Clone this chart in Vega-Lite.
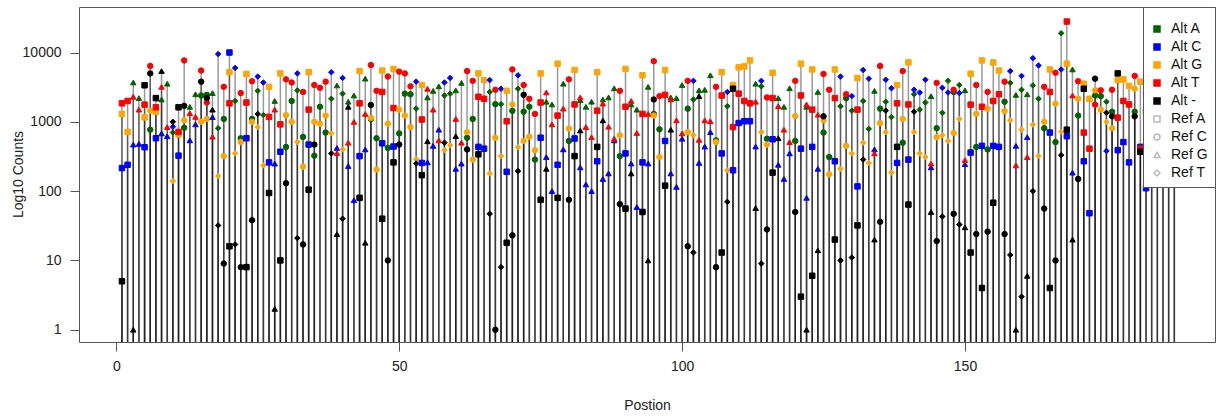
{
"$schema":"https://vega.github.io/schema/vega-lite/v6.json",
"width":1136,"height":335,
"autosize":{"type":"none"},
"padding":{"left":79,"top":7,"right":2,"bottom":77},
"background":"white",
"config":{"view":{"stroke":"#555","strokeWidth":1},"font":"Liberation Sans"},
"data":{"values":[
{"pos":1,"ref":"Ref A","Alt C":215,"Alt G":1300,"Alt T":1850,"Alt -":5},
{"pos":2,"ref":"Ref A","Alt C":240,"Alt G":715,"Alt T":2000},
{"pos":3,"ref":"Ref G","Alt A":3700,"Alt C":470,"Alt T":2300,"Alt -":1},
{"pos":4,"ref":"Ref G","Alt A":2200,"Alt C":480,"Alt T":1500},
{"pos":5,"ref":"Ref A","Alt C":430,"Alt G":1160,"Alt T":1770,"Alt -":3370},
{"pos":6,"ref":"Ref C","Alt A":770,"Alt G":1450,"Alt T":6400,"Alt -":5000},
{"pos":7,"ref":"Ref A","Alt C":580,"Alt G":1400,"Alt T":1620,"Alt -":2200},
{"pos":8,"ref":"Ref G","Alt A":2100,"Alt C":680,"Alt T":3200,"Alt -":5400},
{"pos":9,"ref":"Ref G","Alt A":3550,"Alt C":620,"Alt T":840},
{"pos":10,"ref":"Ref T","Alt A":700,"Alt C":850,"Alt G":140,"Alt -":1000},
{"pos":11,"ref":"Ref A","Alt C":325,"Alt G":660,"Alt T":715,"Alt -":1620},
{"pos":12,"ref":"Ref C","Alt A":820,"Alt G":1050,"Alt T":7700,"Alt -":1700},
{"pos":13,"ref":"Ref G","Alt A":1650,"Alt C":540,"Alt T":1330},
{"pos":14,"ref":"Ref G","Alt A":2500,"Alt C":920,"Alt T":1180},
{"pos":15,"ref":"Ref C","Alt A":2400,"Alt G":1000,"Alt T":5500,"Alt -":3800},
{"pos":16,"ref":"Ref C","Alt A":2450,"Alt G":1100,"Alt T":1900,"Alt -":2200},
{"pos":17,"ref":"Ref G","Alt A":2600,"Alt C":1170,"Alt T":610,"Alt -":1500},
{"pos":18,"ref":"Ref T","Alt A":810,"Alt C":9500,"Alt G":165,"Alt -":32},
{"pos":19,"ref":"Ref C","Alt A":1100,"Alt G":320,"Alt T":3200,"Alt -":9},
{"pos":20,"ref":"Ref A","Alt C":10000,"Alt G":5200,"Alt T":1850,"Alt -":16},
{"pos":21,"ref":"Ref T","Alt A":2000,"Alt C":6000,"Alt G":350,"Alt -":17},
{"pos":22,"ref":"Ref C","Alt A":580,"Alt G":510,"Alt T":2600,"Alt -":8},
{"pos":23,"ref":"Ref A","Alt C":580,"Alt G":4900,"Alt T":1900,"Alt -":8},
{"pos":24,"ref":"Ref C","Alt A":1100,"Alt G":1000,"Alt T":3850,"Alt -":38},
{"pos":25,"ref":"Ref T","Alt A":2800,"Alt C":4500,"Alt G":840,"Alt -":1300},
{"pos":26,"ref":"Ref T","Alt A":1250,"Alt C":3700,"Alt G":235},
{"pos":27,"ref":"Ref A","Alt C":260,"Alt G":3200,"Alt T":1180,"Alt -":94},
{"pos":28,"ref":"Ref G","Alt A":2000,"Alt C":250,"Alt T":1500,"Alt -":2},
{"pos":29,"ref":"Ref A","Alt C":370,"Alt G":5000,"Alt T":920,"Alt -":10},
{"pos":30,"ref":"Ref C","Alt A":435,"Alt G":1250,"Alt T":4100,"Alt -":130},
{"pos":31,"ref":"Ref C","Alt A":2000,"Alt G":1000,"Alt T":3700},
{"pos":32,"ref":"Ref T","Alt A":2850,"Alt C":5000,"Alt G":510,"Alt -":21},
{"pos":33,"ref":"Ref C","Alt A":605,"Alt G":225,"Alt T":2700,"Alt -":17},
{"pos":34,"ref":"Ref A","Alt C":470,"Alt G":5200,"Alt T":1500,"Alt -":105},
{"pos":35,"ref":"Ref C","Alt A":325,"Alt G":1000,"Alt T":3400,"Alt -":470},
{"pos":36,"ref":"Ref C","Alt A":1650,"Alt G":940,"Alt T":3100},
{"pos":37,"ref":"Ref C","Alt A":700,"Alt G":1230,"Alt T":3800},
{"pos":38,"ref":"Ref T","Alt A":2150,"Alt C":5200,"Alt G":680,"Alt -":350},
{"pos":39,"ref":"Ref G","Alt A":3350,"Alt C":420,"Alt T":355,"Alt -":24},
{"pos":40,"ref":"Ref T","Alt A":2550,"Alt C":4300,"Alt G":400,"Alt -":40},
{"pos":41,"ref":"Ref G","Alt A":1950,"Alt C":230,"Alt T":500,"Alt -":1650},
{"pos":42,"ref":"Ref G","Alt A":2400,"Alt C":74,"Alt T":1000},
{"pos":43,"ref":"Ref A","Alt C":320,"Alt G":5400,"Alt T":1850,"Alt -":80},
{"pos":44,"ref":"Ref G","Alt A":4200,"Alt C":400,"Alt T":1300,"Alt -":18},
{"pos":45,"ref":"Ref C","Alt A":1100,"Alt G":1140,"Alt T":6600,"Alt -":1750},
{"pos":46,"ref":"Ref C","Alt A":580,"Alt G":205,"Alt T":2800},
{"pos":47,"ref":"Ref A","Alt C":490,"Alt G":5500,"Alt T":2700,"Alt -":40},
{"pos":48,"ref":"Ref C","Alt A":420,"Alt G":940,"Alt T":4500,"Alt -":10},
{"pos":49,"ref":"Ref A","Alt C":440,"Alt G":5800,"Alt T":1580,"Alt -":260},
{"pos":50,"ref":"Ref C","Alt A":680,"Alt G":1500,"Alt T":5300,"Alt -":470},
{"pos":51,"ref":"Ref C","Alt A":2550,"Alt G":1230,"Alt T":5000},
{"pos":52,"ref":"Ref C","Alt A":2500,"Alt G":840,"Alt T":3250},
{"pos":53,"ref":"Ref T","Alt A":1550,"Alt C":3800,"Alt G":290,"Alt -":250},
{"pos":54,"ref":"Ref A","Alt C":255,"Alt G":3400,"Alt T":1080,"Alt -":170},
{"pos":55,"ref":"Ref G","Alt A":2250,"Alt C":260,"Alt T":3000,"Alt -":525},
{"pos":56,"ref":"Ref G","Alt A":2800,"Alt C":450,"Alt T":1500},
{"pos":57,"ref":"Ref G","Alt A":3250,"Alt C":770,"Alt T":540},
{"pos":58,"ref":"Ref T","Alt A":2400,"Alt C":3700,"Alt G":390,"Alt -":500},
{"pos":59,"ref":"Ref T","Alt A":2550,"Alt C":4300,"Alt G":460},
{"pos":60,"ref":"Ref G","Alt A":2850,"Alt C":210,"Alt T":1100,"Alt -":620},
{"pos":61,"ref":"Ref G","Alt A":3650,"Alt C":250,"Alt T":500},
{"pos":62,"ref":"Ref C","Alt A":590,"Alt G":710,"Alt T":5400,"Alt -":400},
{"pos":63,"ref":"Ref C","Alt A":1100,"Alt G":285,"Alt T":3900},
{"pos":64,"ref":"Ref A","Alt C":435,"Alt G":5000,"Alt T":2300,"Alt -":340},
{"pos":65,"ref":"Ref A","Alt C":410,"Alt G":4000,"Alt T":2150},
{"pos":66,"ref":"Ref T","Alt A":2700,"Alt C":4000,"Alt G":180,"Alt -":47},
{"pos":67,"ref":"Ref C","Alt A":1800,"Alt G":590,"Alt T":2900,"Alt -":1},
{"pos":68,"ref":"Ref T","Alt A":1800,"Alt C":3000,"Alt G":320,"Alt -":8},
{"pos":69,"ref":"Ref A","Alt C":190,"Alt G":2800,"Alt T":1020,"Alt -":18},
{"pos":70,"ref":"Ref C","Alt A":1440,"Alt G":1780,"Alt T":5700,"Alt -":23},
{"pos":71,"ref":"Ref T","Alt A":3000,"Alt C":4700,"Alt G":430,"Alt -":195},
{"pos":72,"ref":"Ref C","Alt A":1400,"Alt G":530,"Alt T":3400,"Alt -":2450},
{"pos":73,"ref":"Ref C","Alt A":1650,"Alt G":610,"Alt T":2150},
{"pos":74,"ref":"Ref C","Alt A":285,"Alt G":390,"Alt T":1300},
{"pos":75,"ref":"Ref A","Alt C":590,"Alt G":5000,"Alt T":1900,"Alt -":75},
{"pos":76,"ref":"Ref G","Alt A":1950,"Alt C":310,"Alt T":2650,"Alt -":210},
{"pos":77,"ref":"Ref G","Alt A":1780,"Alt C":100,"Alt T":920},
{"pos":78,"ref":"Ref A","Alt C":240,"Alt G":6900,"Alt T":1230,"Alt -":80},
{"pos":79,"ref":"Ref G","Alt A":3550,"Alt C":400,"Alt T":1550},
{"pos":80,"ref":"Ref C","Alt A":530,"Alt G":800,"Alt T":4100,"Alt -":75},
{"pos":81,"ref":"Ref A","Alt C":575,"Alt G":5600,"Alt T":1780,"Alt -":320},
{"pos":82,"ref":"Ref G","Alt A":2050,"Alt C":220,"Alt T":2250,"Alt -":750},
{"pos":83,"ref":"Ref G","Alt A":1650,"Alt C":125,"Alt T":840},
{"pos":84,"ref":"Ref G","Alt A":1950,"Alt C":100,"Alt T":600},
{"pos":85,"ref":"Ref A","Alt C":270,"Alt G":5200,"Alt T":1450,"Alt -":435},
{"pos":86,"ref":"Ref G","Alt A":2100,"Alt C":150,"Alt T":1830,"Alt -":1050},
{"pos":87,"ref":"Ref G","Alt A":2250,"Alt C":180,"Alt T":850},
{"pos":88,"ref":"Ref G","Alt A":3050,"Alt C":540,"Alt T":570},
{"pos":89,"ref":"Ref C","Alt A":320,"Alt G":640,"Alt T":2800,"Alt -":65},
{"pos":90,"ref":"Ref A","Alt C":350,"Alt G":5800,"Alt T":1650,"Alt -":56},
{"pos":91,"ref":"Ref G","Alt A":1780,"Alt C":250,"Alt T":2000,"Alt -":180},
{"pos":92,"ref":"Ref G","Alt A":1500,"Alt C":59,"Alt T":690},
{"pos":93,"ref":"Ref A","Alt C":260,"Alt G":4700,"Alt T":1300,"Alt -":50},
{"pos":94,"ref":"Ref G","Alt A":3200,"Alt C":250,"Alt T":1300,"Alt -":10},
{"pos":95,"ref":"Ref C","Alt A":1300,"Alt G":1230,"Alt T":7500,"Alt -":2100},
{"pos":96,"ref":"Ref C","Alt A":780,"Alt G":310,"Alt T":2350},
{"pos":97,"ref":"Ref A","Alt C":530,"Alt G":5600,"Alt T":2450,"Alt -":120},
{"pos":98,"ref":"Ref G","Alt A":2250,"Alt C":180,"Alt T":2100,"Alt -":770},
{"pos":99,"ref":"Ref G","Alt A":2200,"Alt C":115,"Alt T":1050},
{"pos":100,"ref":"Ref G","Alt A":3400,"Alt C":570,"Alt T":680},
{"pos":101,"ref":"Ref C","Alt A":1550,"Alt G":710,"Alt T":3900,"Alt -":16},
{"pos":102,"ref":"Ref T","Alt A":2100,"Alt C":3900,"Alt G":640,"Alt -":13},
{"pos":103,"ref":"Ref G","Alt A":2850,"Alt C":255,"Alt T":550,"Alt -":2350},
{"pos":104,"ref":"Ref G","Alt A":2900,"Alt C":440,"Alt T":1050},
{"pos":105,"ref":"Ref G","Alt A":4700,"Alt C":710,"Alt T":1020},
{"pos":106,"ref":"Ref C","Alt A":540,"Alt G":510,"Alt T":3200,"Alt -":8},
{"pos":107,"ref":"Ref A","Alt C":350,"Alt G":5200,"Alt T":2400,"Alt -":13},
{"pos":108,"ref":"Ref T","Alt A":1680,"Alt C":2700,"Alt G":200,"Alt -":70},
{"pos":109,"ref":"Ref A","Alt C":200,"Alt G":3400,"Alt T":840,"Alt -":3000},
{"pos":110,"ref":"Ref A","Alt C":960,"Alt G":6100,"Alt T":2550},
{"pos":111,"ref":"Ref A","Alt C":1020,"Alt G":6300,"Alt T":2000},
{"pos":112,"ref":"Ref A","Alt C":1020,"Alt G":7700,"Alt T":1850},
{"pos":113,"ref":"Ref G","Alt A":3550,"Alt C":440,"Alt T":1950,"Alt -":57},
{"pos":114,"ref":"Ref T","Alt A":3250,"Alt C":3900,"Alt G":710,"Alt -":9},
{"pos":115,"ref":"Ref C","Alt A":570,"Alt G":470,"Alt T":2250,"Alt -":28},
{"pos":116,"ref":"Ref A","Alt C":560,"Alt G":5100,"Alt T":2200,"Alt -":185},
{"pos":117,"ref":"Ref G","Alt A":2200,"Alt C":240,"Alt T":1680,"Alt -":580},
{"pos":118,"ref":"Ref G","Alt A":1650,"Alt C":150,"Alt T":770},
{"pos":119,"ref":"Ref G","Alt A":3050,"Alt C":350,"Alt T":510},
{"pos":120,"ref":"Ref C","Alt A":530,"Alt G":1210,"Alt T":3900,"Alt -":50},
{"pos":121,"ref":"Ref A","Alt C":410,"Alt G":6900,"Alt T":2400,"Alt -":3},
{"pos":122,"ref":"Ref G","Alt A":1650,"Alt C":80,"Alt T":1780,"Alt -":1},
{"pos":123,"ref":"Ref A","Alt C":435,"Alt G":5700,"Alt T":1500,"Alt -":6},
{"pos":124,"ref":"Ref G","Alt A":2700,"Alt C":210,"Alt T":1270,"Alt -":14},
{"pos":125,"ref":"Ref C","Alt A":700,"Alt G":1050,"Alt T":4900,"Alt -":1200},
{"pos":126,"ref":"Ref C","Alt A":310,"Alt G":175,"Alt T":2900},
{"pos":127,"ref":"Ref A","Alt C":270,"Alt G":5700,"Alt T":2200,"Alt -":20},
{"pos":128,"ref":"Ref T","Alt A":1680,"Alt C":4500,"Alt G":210,"Alt -":10},
{"pos":129,"ref":"Ref C","Alt A":2200,"Alt G":450,"Alt T":2500},
{"pos":130,"ref":"Ref T","Alt A":1450,"Alt C":2350,"Alt G":350,"Alt -":11},
{"pos":131,"ref":"Ref A","Alt C":117,"Alt G":4300,"Alt T":1500,"Alt -":32},
{"pos":132,"ref":"Ref T","Alt A":2000,"Alt C":5600,"Alt G":500,"Alt -":285},
{"pos":133,"ref":"Ref T","Alt A":790,"Alt C":4200,"Alt G":255},
{"pos":134,"ref":"Ref G","Alt A":2800,"Alt C":400,"Alt T":350,"Alt -":20},
{"pos":135,"ref":"Ref C","Alt A":1550,"Alt G":960,"Alt T":6400,"Alt -":36},
{"pos":136,"ref":"Ref T","Alt A":1950,"Alt C":4050,"Alt G":710,"Alt -":1450},
{"pos":137,"ref":"Ref T","Alt A":1170,"Alt C":3050,"Alt G":185},
{"pos":138,"ref":"Ref A","Alt C":255,"Alt G":3400,"Alt T":1850,"Alt -":435},
{"pos":139,"ref":"Ref C","Alt A":500,"Alt G":1100,"Alt T":5400},
{"pos":140,"ref":"Ref A","Alt C":285,"Alt G":7200,"Alt T":1780,"Alt -":64},
{"pos":141,"ref":"Ref T","Alt A":2500,"Alt C":2900,"Alt G":710,"Alt -":1400},
{"pos":142,"ref":"Ref T","Alt A":1500,"Alt C":2650,"Alt G":350},
{"pos":143,"ref":"Ref T","Alt A":1900,"Alt C":4050,"Alt G":310},
{"pos":144,"ref":"Ref G","Alt A":2350,"Alt C":220,"Alt T":250,"Alt -":50},
{"pos":145,"ref":"Ref C","Alt A":810,"Alt G":600,"Alt T":3650,"Alt -":19},
{"pos":146,"ref":"Ref T","Alt A":1350,"Alt C":3100,"Alt G":640,"Alt -":43},
{"pos":147,"ref":"Ref T","Alt A":3900,"Alt C":2650,"Alt G":530},
{"pos":148,"ref":"Ref C","Alt A":2700,"Alt G":690,"Alt T":2900,"Alt -":47},
{"pos":149,"ref":"Ref T","Alt A":3400,"Alt C":2600,"Alt G":1100,"Alt -":33},
{"pos":150,"ref":"Ref G","Alt A":2850,"Alt C":245,"Alt T":280,"Alt -":30},
{"pos":151,"ref":"Ref A","Alt C":360,"Alt G":4950,"Alt T":1770,"Alt -":13},
{"pos":152,"ref":"Ref C","Alt A":435,"Alt G":1300,"Alt T":3400,"Alt -":24},
{"pos":153,"ref":"Ref A","Alt C":450,"Alt G":7700,"Alt T":1650,"Alt -":4},
{"pos":154,"ref":"Ref C","Alt A":400,"Alt G":1550,"Alt T":2700,"Alt -":26},
{"pos":155,"ref":"Ref A","Alt C":450,"Alt G":7200,"Alt T":2000,"Alt -":68},
{"pos":156,"ref":"Ref A","Alt C":435,"Alt G":5500,"Alt T":2500},
{"pos":157,"ref":"Ref C","Alt A":1950,"Alt G":1430,"Alt T":3800,"Alt -":24},
{"pos":158,"ref":"Ref T","Alt A":3650,"Alt C":5400,"Alt G":1050,"Alt -":12},
{"pos":159,"ref":"Ref G","Alt A":2450,"Alt C":450,"Alt T":235,"Alt -":1},
{"pos":160,"ref":"Ref T","Alt A":2900,"Alt C":4600,"Alt G":770,"Alt -":3},
{"pos":161,"ref":"Ref G","Alt A":2500,"Alt C":600,"Alt T":310,"Alt -":6},
{"pos":162,"ref":"Ref T","Alt A":3350,"Alt C":8300,"Alt G":910,"Alt -":100},
{"pos":163,"ref":"Ref T","Alt A":2150,"Alt C":6500,"Alt G":320},
{"pos":164,"ref":"Ref C","Alt A":810,"Alt G":1000,"Alt T":3200,"Alt -":56},
{"pos":165,"ref":"Ref A","Alt C":700,"Alt G":5700,"Alt T":2700,"Alt -":4},
{"pos":166,"ref":"Ref C","Alt A":510,"Alt G":1830,"Alt T":5100,"Alt -":10},
{"pos":167,"ref":"Ref T","Alt A":19000,"Alt C":5700,"Alt G":720,"Alt -":330},
{"pos":168,"ref":"Ref A","Alt C":620,"Alt G":6900,"Alt T":28000,"Alt -":770},
{"pos":169,"ref":"Ref G","Alt A":5700,"Alt C":185,"Alt T":2400,"Alt -":20},
{"pos":170,"ref":"Ref C","Alt A":1230,"Alt G":2150,"Alt T":3850,"Alt -":150},
{"pos":171,"ref":"Ref A","Alt C":270,"Alt G":3550,"Alt T":700,"Alt -":3000},
{"pos":172,"ref":"Ref A","Alt C":48,"Alt G":2150,"Alt T":410},
{"pos":173,"ref":"Ref C","Alt A":2400,"Alt G":2850,"Alt T":1770,"Alt -":4200},
{"pos":174,"ref":"Ref C","Alt A":2350,"Alt G":1500,"Alt T":2850},
{"pos":175,"ref":"Ref T","Alt A":1950,"Alt C":380,"Alt G":1000,"Alt -":1350},
{"pos":176,"ref":"Ref C","Alt A":1400,"Alt G":810,"Alt T":2900,"Alt -":1200},
{"pos":177,"ref":"Ref A","Alt C":390,"Alt G":4000,"Alt T":1150,"Alt -":5000},
{"pos":178,"ref":"Ref A","Alt C":510,"Alt G":4100,"Alt T":2000},
{"pos":179,"ref":"Ref A","Alt C":260,"Alt G":3300,"Alt T":1780},
{"pos":180,"ref":"Ref C","Alt A":1400,"Alt G":3000,"Alt T":4600,"Alt -":1200},
{"pos":181,"ref":"Ref A","Alt C":435,"Alt G":3800,"Alt T":410,"Alt -":370},
{"pos":182,"ref":"Ref A","Alt C":110,"Alt G":2500,"Alt T":1400},
{"pos":183,"ref":"Ref C","Alt A":1500,"Alt G":900,"Alt T":2800},
{"pos":184,"ref":"Ref G","Alt A":2600,"Alt C":700,"Alt T":1200},
{"pos":185,"ref":"Ref T","Alt A":1800,"Alt C":3100,"Alt G":600},
{"pos":186,"ref":"Ref A","Alt C":800,"Alt G":2900,"Alt T":1600},
{"pos":187,"ref":"Ref C","Alt A":1200,"Alt G":700,"Alt T":2200}
]},
"transform":[
{"fold":["Alt A","Alt C","Alt G","Alt T","Alt -"],"as":["alt","count"]},
{"filter":"datum.count > 0"}
],
"layer":[
{"mark":{"type":"rule","color":"black","opacity":0.4,"strokeWidth":1.5},
 "encoding":{
  "x":{"field":"pos","type":"quantitative","scale":{"domain":[-6.59,194.19],"nice":false,"zero":false},
   "axis":{"values":[0,50,100,150],"grid":false,"domain":false,"tickSize":9,"tickColor":"#555","labelFontSize":14,"labelColor":"#222","labelPadding":8,"title":"Postion","titleFontSize":14,"titleFontWeight":"normal","titleColor":"#222","titleY":63,"titleBaseline":"middle"}},
  "y":{"field":"count","type":"quantitative","scale":{"type":"log","domain":[0.665,45400],"nice":false},
   "axis":{"values":[1,10,100,1000,10000],"format":"d","grid":false,"domain":false,"tickSize":9,"tickColor":"#555","labelFontSize":14,"labelColor":"#222","labelPadding":9,"title":"Log10 Counts","titleFontSize":14,"titleFontWeight":"normal","titleColor":"#222","titleX":-61,"titleY":167,"titleAngle":-90,"titleAlign":"center","titleBaseline":"middle"}},
  "y2":{"datum":0.665}
 }},
{"mark":{"type":"point","filled":true,"opacity":1,"strokeWidth":1,"size":30},
 "encoding":{
  "x":{"field":"pos","type":"quantitative"},
  "y":{"field":"count","type":"quantitative"},
  "fill":{"field":"alt","type":"nominal","scale":{"domain":["Alt A","Alt C","Alt G","Alt T","Alt -","Ref A","Ref C","Ref G","Ref T"],"range":["#006400","#0000ff","#ffa500","#ff0000","#000000","transparent","transparent","transparent","transparent"]},
   "legend":{"title":" ","titleFontSize":5,"titlePadding":3,"orient":"none","legendX":1064,"legendY":0,"padding":7,"rowPadding":4,"symbolOffset":0,"labelOffset":7,"symbolSize":36,"labelFontSize":14,"labelColor":"#111","labelFont":"Liberation Sans","strokeColor":"#555","fillColor":"white"}},
  "stroke":{"field":"alt","type":"nominal","scale":{"domain":["Alt A","Alt C","Alt G","Alt T","Alt -","Ref A","Ref C","Ref G","Ref T"],"range":["#006400","#0000ff","#ffa500","#ff0000","#000000","#bbbbbb","#bbbbbb","#bbbbbb","#bbbbbb"]},
   "legend":{"title":" ","titleFontSize":5,"titlePadding":3,"orient":"none","legendX":1064,"legendY":0,"padding":7,"rowPadding":4,"symbolOffset":0,"labelOffset":7,"symbolSize":36,"labelFontSize":14,"labelColor":"#111","labelFont":"Liberation Sans","strokeColor":"#555","fillColor":"white"}},
  "shape":{"field":"ref","type":"nominal","scale":{"domain":["Alt A","Alt C","Alt G","Alt T","Alt -","Ref A","Ref C","Ref G","Ref T"],"range":["square","square","square","square","square","square","circle","triangle-up","diamond"]},
   "legend":{"title":" ","titleFontSize":5,"titlePadding":3,"orient":"none","legendX":1064,"legendY":0,"padding":7,"rowPadding":4,"symbolOffset":0,"labelOffset":7,"symbolSize":36,"labelFontSize":14,"labelColor":"#111","labelFont":"Liberation Sans","strokeColor":"#555","fillColor":"white"}}
 }}
]
}
